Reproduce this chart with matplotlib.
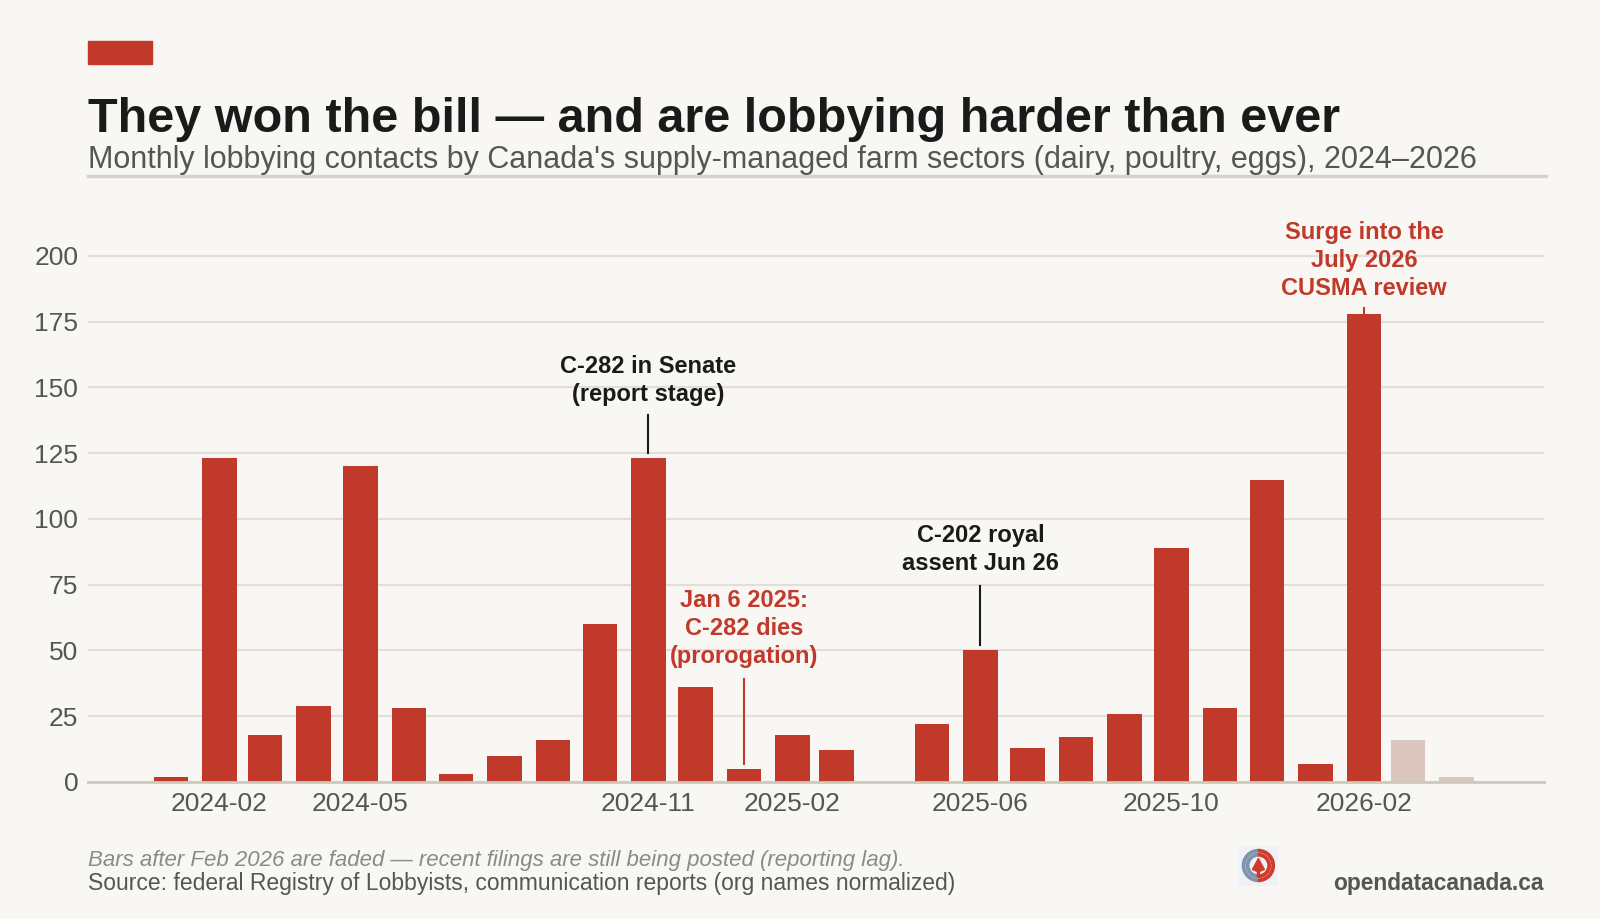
import numpy as np
import pandas as pd
import matplotlib
matplotlib.use("Agg")
import matplotlib.pyplot as plt
import matplotlib.dates as mdates
from matplotlib.patches import Rectangle, Wedge, Polygon

plt.rcParams['font.family'] = ['Liberation Sans', 'DejaVu Sans']

# monthly contacts (2025-04 has no bar)
months = ["2024-01", "2024-02", "2024-03", "2024-04", "2024-05", "2024-06",
          "2024-07", "2024-08", "2024-09", "2024-10", "2024-11", "2024-12",
          "2025-01", "2025-02", "2025-03", "2025-05", "2025-06", "2025-07",
          "2025-08", "2025-09", "2025-10", "2025-11", "2025-12", "2026-01",
          "2026-02", "2026-03", "2026-04"]
contacts = [2, 123, 18, 29, 120, 28, 3, 10, 16, 60, 123, 36, 5, 18, 12,
            22, 50, 13, 17, 26, 89, 28, 115, 7, 178, 16, 2]
faded_after = "2026-02"

tick_months = ["2024-02", "2024-05", "2024-11", "2025-02", "2025-06",
               "2025-10", "2026-02"]
y_ticks = [0, 25, 50, 75, 100, 125, 150, 175, 200]

# annotations: month, label, text centre value, line from, line to, colour
notes = [
    ("2024-11", "C-282 in Senate\n(report stage)", 152.8, 139.4, 125, "#1a1a1a"),
    ("2025-01", "Jan 6 2025:\nC-282 dies\n(prorogation)", 58.3, 39.2, 7, "#c0392b"),
    ("2025-06", "C-202 royal\nassent Jun 26", 88.3, 74.6, 52, "#1a1a1a"),
    ("2026-02", "Surge into the\nJuly 2026\nCUSMA review", 198.4, 180.2, 177.1, "#c0392b"),
]

BG = "#f8f7f3"
RED = "#c0392b"
FADED = "#dbc5bf"
GRAY = "#555555"

dates = pd.to_datetime(months)
colors = [RED if m <= faded_after else FADED for m in months]

fig = plt.figure(figsize=(16, 9.19), dpi=100, facecolor=BG)
ax = fig.add_axes([0.055, 0.1491, 0.91, 0.6153])
ax.set_facecolor(BG)

ax.bar(dates, contacts, width=22, color=colors, zorder=3)

ax.set_xlim(pd.Timestamp("2023-11-09"), pd.Timestamp("2026-05-27"))
ax.set_ylim(0, 215)
ax.set_yticks(y_ticks)
ax.set_xticks(pd.to_datetime(tick_months))
ax.xaxis.set_major_formatter(mdates.DateFormatter("%Y-%m"))
ax.tick_params(axis="both", length=0, labelsize=19, colors=GRAY)
ax.tick_params(axis="y", pad=7)
ax.tick_params(axis="x", pad=7)
ax.grid(axis="y", color="#e3dfd8", linewidth=1.5, zorder=0)
for s in ["top", "right", "left"]:
    ax.spines[s].set_visible(False)
ax.spines["bottom"].set_color("#cfc8bc")
ax.spines["bottom"].set_linewidth(2)
ax.spines["bottom"].set_zorder(4)

for m, label, yc, y0, y1, c in notes:
    x = pd.Timestamp(m)
    ax.text(x, yc, label, ha="center", va="center", fontsize=17,
            fontweight="bold", color=c, linespacing=1.27, clip_on=False, zorder=5)
    ax.plot([x, x], [y0, y1], color=c, linewidth=1.5, zorder=5, clip_on=False)

# header
fig.patches.append(Rectangle((0.055, 0.9305), 0.04, 0.025, transform=fig.transFigure,
                             color=RED))
fig.text(0.055, 0.870, "They won the bill \u2014 and are lobbying harder than ever",
         fontsize=35, fontweight="bold", color="#1a1a1a", va="center")
fig.text(0.055, 0.826, "Monthly lobbying contacts by Canada's supply-managed farm "
         "sectors (dairy, poultry, eggs), 2024\u20132026",
         fontsize=22, color=GRAY, va="center")
fig.add_artist(plt.Line2D([0.055, 0.966], [0.809, 0.809], transform=fig.transFigure,
                          color="#d9d3c7", linewidth=2.5))

# footer
fig.text(0.055, 0.0635, "Bars after Feb 2026 are faded \u2014 recent filings are still "
         "being posted (reporting lag).", fontsize=16, style="italic",
         color="#8a8a8a", va="center")
fig.text(0.055, 0.039, "Source: federal Registry of Lobbyists, communication reports "
         "(org names normalized)", fontsize=16.5, color=GRAY, va="center")
fig.text(0.965, 0.039, "opendatacanada.ca", fontsize=16.4, fontweight="bold",
         color=GRAY, ha="right", va="center")

# small logo
lax = fig.add_axes([0.774, 0.0359, 0.025, 0.0446])
lax.set_xlim(-1, 1)
lax.set_ylim(-1, 1)
lax.set_aspect("equal")
lax.axis("off")
lax.add_patch(Rectangle((-1, -1), 2, 2, color="#eef1f5"))
for r in [0.8, 0.6]:
    lax.add_patch(Wedge((0, 0), r, 90, 270, width=0.12, color="#7f93ad"))
    lax.add_patch(Wedge((0, 0), r, -90, 90, width=0.12, color="#d23a2e"))
lax.add_patch(Polygon([[-0.3, -0.2], [0, 0.35], [0.3, -0.2], [0.05, -0.3],
                       [0.05, -0.55], [-0.05, -0.55], [-0.05, -0.3]],
                      color="#d23a2e"))

fig.savefig("out.png", dpi=100, facecolor=BG)
